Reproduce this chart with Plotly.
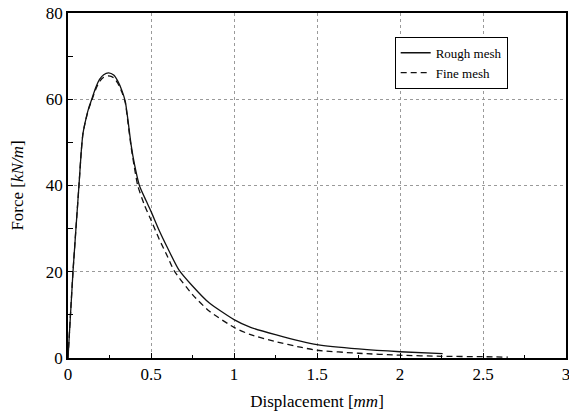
import plotly.graph_objects as go

rough_x = [0, 0.03, 0.066, 0.08, 0.09, 0.107, 0.125, 0.143, 0.165, 0.19, 0.215, 0.245, 0.275, 0.30,
           0.325, 0.345, 0.36, 0.38, 0.40, 0.43, 0.47, 0.5, 0.55, 0.6, 0.667, 0.75, 0.85, 1.0,
           1.1, 1.25, 1.4, 1.5, 1.75, 2.0, 2.257]
rough_y = [0, 20, 40, 48, 52, 55.3, 58, 60, 62.5, 64.6, 65.7, 66.1, 65.6, 64.2,
           62, 59.5, 55.5, 49.5, 45, 40, 36.5, 34, 29.5, 25.5, 20.5, 16.7, 12.8, 8.9,
           7.1, 5.4, 3.9, 3.1, 2.1, 1.45, 1.0]

fine_x = [0, 0.03, 0.066, 0.08, 0.09, 0.107, 0.125, 0.143, 0.165, 0.19, 0.215, 0.245, 0.275, 0.30,
          0.325, 0.345, 0.36, 0.38, 0.40, 0.42, 0.46, 0.5, 0.55, 0.6, 0.64, 0.75, 0.85, 1.0,
          1.1, 1.25, 1.4, 1.5, 1.75, 2.0, 2.25, 2.5, 2.65]
fine_y = [0, 20, 40, 48, 52, 55.2, 57.8, 59.7, 62.1, 64.1, 65.1, 65.4, 65.0, 63.7,
          61.6, 59.2, 55, 49, 44.2, 40, 35.5, 32, 27.5, 23.5, 20.2, 14.7, 10.9, 7.1,
          5.4, 3.8, 2.5, 1.8, 1.1, 0.65, 0.4, 0.3, 0.2]

x_ticks = [0, 0.5, 1, 1.5, 2, 2.5, 3]
x_tick_labels = ["0", "0.5", "1", "1.5", "2", "2.5", "3"]
y_ticks = [0, 20, 40, 60, 80]
y_tick_labels = ["0", "20", "40", "60", "80"]

font_family = "Liberation Serif, Times New Roman, serif"

fig = go.Figure()
fig.add_trace(go.Scatter(x=rough_x, y=rough_y, mode="lines", name="Rough mesh",
                         line=dict(color="#111111", width=1.3, shape="spline", smoothing=0.6)))
fig.add_trace(go.Scatter(x=fine_x, y=fine_y, mode="lines", name="Fine mesh",
                         line=dict(color="#111111", width=1.3, dash="6px,4px", shape="spline", smoothing=0.6)))

axis_common = dict(
    showline=True, linecolor="black", linewidth=1.5, mirror=True,
    ticks="inside", ticklen=5, tickcolor="black",
    showgrid=True, gridcolor="#9a9a9a", griddash="dot", gridwidth=1,
    zeroline=False, automargin=False, ticklabeloverflow="allow",
    tickfont=dict(family=font_family, size=17, color="black"),
)

fig.update_xaxes(range=[0, 3], tickvals=x_ticks, ticktext=x_tick_labels,
                 title=dict(text="Displacement [<i>mm</i>]", font=dict(family=font_family, size=17, color="black"), standoff=12),
                 minor=dict(ticks="inside", ticklen=3, dtick=0.25, tick0=0, tickcolor="black", showgrid=False),
                 **axis_common)
fig.update_yaxes(range=[0, 80], tickvals=y_ticks, ticktext=y_tick_labels,
                 title=dict(text="Force [<i>kN/m</i>]", font=dict(family=font_family, size=17, color="black"), standoff=18),
                 minor=dict(ticks="inside", ticklen=5, dtick=10, tick0=0, tickcolor="black", showgrid=False),
                 **axis_common)

fig.update_layout(
    width=569, height=420,
    margin=dict(l=68, r=3, t=13, b=62, autoexpand=False),
    paper_bgcolor="white", plot_bgcolor="white",
    font=dict(family=font_family, color="black"),
    showlegend=True,
    legend=dict(x=0.656, y=0.931, xanchor="left", yanchor="top",
                bgcolor="white", bordercolor="black", borderwidth=1,
                font=dict(family=font_family, size=13, color="black"),
                itemwidth=30, tracegroupgap=2),
)

fig.write_html("out.html",
               config={"displayModeBar": False},
               post_script="document.body.style.margin='0px';document.body.style.overflow='hidden';")
